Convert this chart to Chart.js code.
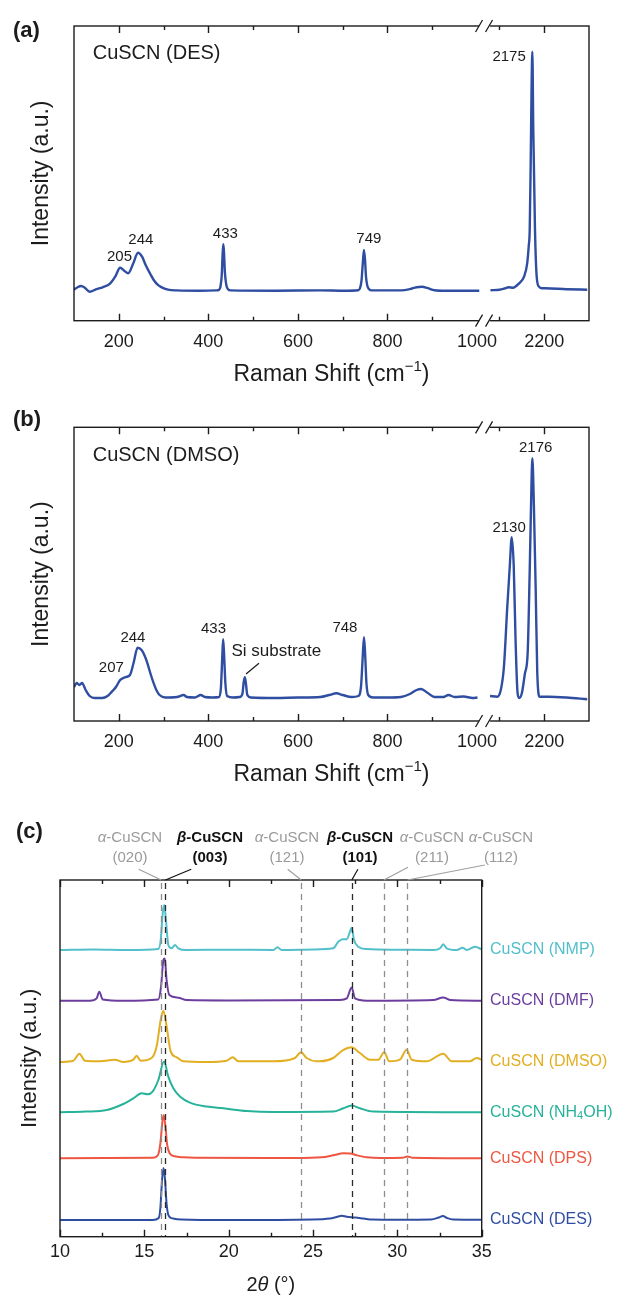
<!DOCTYPE html>
<html><head><meta charset="utf-8">
<script src="https://cdn.jsdelivr.net/npm/chart.js@4.4.0/dist/chart.umd.min.js"></script>
<style>
html,body{margin:0;padding:0;background:#fff;}
#wrap{position:relative;width:618px;height:1295px;overflow:hidden;background:#fff;}
canvas{position:absolute;left:0;}
</style></head><body>
<div id="wrap">
<canvas id="ca" width="618" height="400" style="top:0px"></canvas>
<canvas id="cb" width="618" height="399" style="top:401px"></canvas>
<canvas id="cc" width="618" height="495" style="top:800px"></canvas>
</div>
<script>
// ---------------- DATA ----------------
// (a) Raman, CuSCN (DES): [Raman shift (cm-1), intensity (a.u.)]
const ramanDES_low = [[100,1],[108,3.5],[116,4.7],[124,3],[135,-1],[150,1.5],[164,3.4],[181,7.4],[192,14],[203,23],[212,20],[221,17.4],[232,27],[243,38],[252,34],[260,25.7],[270,17],[278,10.7],[288,5.5],[296,3.4],[310,1],[330,0.3],[380,0],[418,0.3],[424,1],[427,4],[430,16],[432,38],[433.5,46.4],[435,38],[437,18],[440,6],[444,1.5],[450,0.3],[550,0],[650,0.3],[700,0],[735,0.5],[739,3],[742,10],[745,28],[747.5,40.7],[750,30],[752,14],[755,5],[759,1.5],[765,0.3],[830,0.3],[850,1.5],[865,3.5],[877,4],[890,2.5],[905,0.5],[930,0],[1005,0]];
const ramanDES_high = [[2080,0.5],[2100,1],[2110,2],[2121,3.4],[2130,3],[2144,7.4],[2155,14],[2162,27.4],[2165.5,45],[2167.6,60.7],[2169.8,127.7],[2172,210.7],[2173.5,239],[2175.6,160.7],[2179.4,60.7],[2183.2,14],[2188.3,4],[2195,2.5],[2203,2.4],[2250,1.5],[2296,1]];
// (b) Raman, CuSCN (DMSO)
const ramanDMSO_low = [[100,11],[106,15],[112,13],[118,15],[126,8],[135,2],[146,0],[163,0],[175,2],[181,4.7],[188,8],[194,11.3],[203,18],[210,20],[216,21],[225,23],[233,35],[242,50.3],[251,48],[258,42],[264,34.7],[271,24],[278,14.7],[285,7],[291,3],[304,0.5],[330,1],[345,3],[352,1],[370,0.5],[383,3],[392,1],[410,0.5],[424,1],[428,10],[431,40],[433,58.7],[435,45],[438,15],[442,2],[455,0.5],[470,1],[476,4],[479,16],[481.5,20.7],[484,14],[487,3],[495,0.5],[550,0],[600,0.5],[650,1],[670,3],[686,4.7],[700,3],[720,1],[735,2],[741,12],[744,35],[747.5,60.7],[750,45],[753,15],[757,3],[768,0.5],[800,0.5],[830,1],[850,4],[865,8],[875,9],[890,5],[905,1],[925,1],[936,3],[950,1],[970,1.5],[990,0],[1001,0.5]];
const ramanDMSO_high = [[2079,2],[2095,1.3],[2103,8],[2110,31],[2117.5,91],[2123,131],[2127.5,160.7],[2132,131],[2136,58],[2140.5,5],[2144,0],[2150,4.7],[2157,24.7],[2163,44.7],[2167.5,124.7],[2170.5,191],[2173.5,239.7],[2177,191],[2181,108],[2184.5,24.7],[2190,1.3],[2210,1.3],[2250,0.5],[2296,-1.3]];
// Raman tick labels
const ramanTickValues = [200,400,600,800,1000,2200];
const ramanTickLabels = ['200','400','600','800','1000','2200'];
const ramanMinorTicks = [300,500,700,900,2100];
// Raman peak labels [text, shift, intensity]
const peaksDES = [['205',201.6,34],['244',249.3,50.7],['433',438,56.7],['749',758.4,51.7],['2175',2121.5,233.5]];
const peaksDMSO = [['207',183.3,30.5],['244',231.5,59.7],['433',411.5,68.8],['748',705,70.5],['2130',2121.5,170.5],['2176',2181,250.5]];

// (c) XRD: [2theta (deg), relative intensity]
const xrdSamples = ['NMP','DMF','DMSO','NH4OH','DPS','DES'];
const xrdBaselines = [286.7,236,174.7,124.4,78.4,16.7];
const xrdNMP = [[10,0],[12,0.5],[14,0],[15.83,1],[15.97,10],[16.09,36.7],[16.18,45],[16.28,30],[16.42,5],[16.62,1.7],[16.82,5],[17.01,1.7],[17.5,0],[20,0.3],[22.65,0],[22.89,2.7],[23.14,0],[25,0.5],[26.2,1.7],[26.5,8.3],[26.76,10.7],[27,10.7],[27.19,18.3],[27.29,22.3],[27.43,10],[27.68,3.3],[28.18,1],[30,0.3],[32.13,0],[32.53,1.7],[32.72,5.7],[32.92,1.7],[33.51,0],[33.87,2.3],[34.11,0],[34.6,3.3],[35,0.7]];
const xrdDMF = [[10,0],[11.78,0],[12.17,2.3],[12.33,9],[12.53,1.3],[13.75,0],[15.83,1.3],[15.99,14],[16.13,40.7],[16.21,42.3],[16.32,20.7],[16.48,5.7],[17.01,3],[17.5,0.7],[20,0.3],[26.6,0.7],[27,2.3],[27.29,13.3],[27.49,2.3],[28.18,0],[32.13,0.7],[32.72,3.3],[33.12,0.7],[35,0]];
const xrdDMSO = [[10,0],[10.79,1.3],[11.15,8.3],[11.48,1.3],[12.37,0.7],[13.26,2.3],[13.75,0],[14.35,2.3],[14.54,6.3],[14.78,1.3],[15.43,4],[15.73,15.7],[15.97,42.3],[16.13,51.3],[16.32,35.7],[16.56,10.7],[16.92,4.7],[17.31,0.7],[18.7,0],[19.88,1.3],[20.24,4.7],[20.57,0.7],[22.65,0.7],[23.93,4],[24.29,9.7],[24.62,4],[25.2,0.7],[25.41,0.7],[26.2,4],[26.76,11.7],[27.29,14.7],[27.78,9],[28.38,2.3],[28.87,2.3],[29.22,9.7],[29.52,0.7],[30.15,2.3],[30.55,12.3],[30.85,2.3],[31.74,0.7],[32.72,8.3],[33.22,0.7],[34.3,0.7],[34.7,4],[35,2.3]];
const xrdNH4OH = [[10,0],[11.5,0.7],[12.77,2.3],[13.75,8.3],[14.35,14],[14.84,19],[15.2,18],[15.5,21],[15.83,32.3],[16.17,50.7],[16.42,35.7],[16.72,24],[17.11,15.7],[17.7,9.7],[18.7,5.7],[19.68,4],[21.07,1.3],[22.65,0.3],[26.2,0.7],[26.8,4],[27.29,6.7],[27.78,4],[28.57,0.7],[35,0]];
const xrdDPS = [[10,0],[15.5,0.5],[15.8,3],[15.95,15],[16.08,38],[16.15,43],[16.25,32],[16.35,14],[16.5,5],[16.8,2],[17.3,1],[18,0.5],[24,0.3],[25.5,1],[26.2,3],[26.8,5],[27.2,4.8],[27.6,3],[28.2,1],[29,0.3],[30.3,0.5],[30.6,1.8],[30.9,0.5],[35,0]];
const xrdDES = [[10,0],[15.5,0],[15.85,2],[15.95,12],[16.05,40],[16.14,52],[16.22,42],[16.32,16],[16.45,4],[16.7,1.5],[17.2,0.5],[20,0],[25,0.5],[26,1.5],[26.4,3],[26.7,4.2],[27.0,3.2],[27.5,2.5],[28,1.5],[28.5,0.5],[30,0.3],[32,0.5],[32.45,2.5],[32.7,4],[32.95,2],[33.3,0.5],[35,0.3]];
const xrdTickValues = [10,15,20,25,30,35];
const xrdTickLabels = ['10','15','20','25','30','35'];
const xrdMinorTicks = [12.5,17.5,22.5,27.5,32.5];
// reference reflections
const reflPhase = ['α','β','α','β','α','α'];
const reflHkl = ['(020)','(003)','(121)','(101)','(211)','(112)'];
const reflTheta = [16.0,16.25,24.3,27.3,29.2,30.6];

// ---------------- STYLE ----------------
const F = '"Liberation Sans", Arial, Helvetica, sans-serif';
const INK = '#1c1c1c';
const BLUE = '#2f4ea2';
const xrdColors = ['#52bfcb','#6b3e9e','#e2ae22','#27b29a','#ef5641','#2f4ea2'];
const GREYTXT = '#9a9a9a';

function rich(ctx, parts, x, y, align) {
  let w = 0;
  for (const p of parts) { ctx.font = p.f; p.w = ctx.measureText(p.t).width; w += p.w; }
  let cx = align === 'center' ? x - w / 2 : (align === 'right' ? x - w : x);
  ctx.textAlign = 'left'; ctx.textBaseline = 'middle';
  for (const p of parts) { ctx.font = p.f; ctx.fillText(p.t, cx, y + (p.dy || 0)); cx += p.w; }
}

// ---------------- RAMAN PANELS ----------------
const BREAK = 1050;
const toAxis = v => (v > 1500 ? v - BREAK : v);
const toPts = (arr, off = 0, fx = v => v) => arr.map(([a, b]) => ({ x: fx(a), y: b + off }));

function ramanChart(id, o) {
  const decor = {
    id: 'decor_' + id,
    afterDatasetsDraw(chart) {
      const { ctx, chartArea: a, scales: { x, y } } = chart;
      ctx.save();
      ctx.strokeStyle = INK; ctx.lineWidth = 1.4;
      ctx.strokeRect(a.left, a.top, a.right - a.left, a.bottom - a.top);
      const tick = (v, len) => {
        const px = Math.round(x.getPixelForValue(toAxis(v))) + 0.5;
        ctx.beginPath();
        ctx.moveTo(px, a.bottom); ctx.lineTo(px, a.bottom - len);
        ctx.moveTo(px, a.top); ctx.lineTo(px, a.top + len);
        ctx.stroke();
      };
      ramanTickValues.filter(v => v !== 1000).forEach(v => tick(v, 7));
      ramanMinorTicks.forEach(v => tick(v, 4));
      // axis break
      const xb = x.getPixelForValue(1000);
      ctx.fillStyle = '#fff';
      [a.top, a.bottom].forEach(yy => ctx.fillRect(xb + 2, yy - 2.5, 11, 5));
      ctx.lineWidth = 1.3;
      ctx.beginPath();
      [a.top, a.bottom].forEach(yy => {
        [xb + 2, xb + 12].forEach(sx => { ctx.moveTo(sx - 3.5, yy + 6); ctx.lineTo(sx + 3.5, yy - 6); });
      });
      ctx.stroke();
      // peak labels
      ctx.fillStyle = INK; ctx.font = '15px ' + F; ctx.textAlign = 'center'; ctx.textBaseline = 'middle';
      o.peaks.forEach(([t, px, py]) => ctx.fillText(t, x.getPixelForValue(toAxis(px)), y.getPixelForValue(py)));
      if (o.extra) o.extra(ctx, x, y);
      // sample name, panel letter
      ctx.textAlign = 'left';
      ctx.font = '20px ' + F; ctx.fillText(o.sample, 92.7, o.sampleY);
      ctx.font = 'bold 22px ' + F; ctx.fillText(o.letter, 13, o.letterY);
      // x title
      ctx.fillStyle = INK;
      rich(ctx, [{ t: 'Raman Shift (cm', f: '23px ' + F }, { t: '−1', f: '15px ' + F, dy: -8 }, { t: ')', f: '23px ' + F }],
        (a.left + a.right) / 2, o.titleY, 'center');
      ctx.restore();
    }
  };
  const W = 618;
  return new Chart(document.getElementById(id), {
    type: 'line',
    data: {
      datasets: [
        { data: toPts(o.low, 0, toAxis), borderColor: BLUE, borderWidth: 2.4, pointRadius: 0, cubicInterpolationMode: 'monotone', fill: false },
        { data: toPts(o.high, 0, toAxis), borderColor: BLUE, borderWidth: 2.4, pointRadius: 0, cubicInterpolationMode: 'monotone', fill: false }
      ]
    },
    options: {
      responsive: false, animation: false, devicePixelRatio: 1,
      layout: { padding: { left: 0, top: o.T, right: W - o.R, bottom: 0 } },
      plugins: { legend: { display: false }, tooltip: { enabled: false } },
      scales: {
        x: {
          type: 'linear', min: 100, max: 1250, position: 'bottom',
          grid: { display: false, drawTicks: false }, border: { display: false },
          afterBuildTicks: s => { s.ticks = ramanTickValues.map(v => ({ value: toAxis(v) })); },
          ticks: { autoSkip: false, maxRotation: 0, minRotation: 0, padding: o.tickPad, color: INK, font: { family: F, size: 18 },
            callback: (v, i) => ramanTickLabels[i] },
          afterFit: s => { s.height = o.H - o.B; }
        },
        y: {
          type: 'linear', min: o.ymin, max: o.ymax,
          grid: { display: false, drawTicks: false }, border: { display: false },
          ticks: { display: false },
          title: { display: true, text: 'Intensity (a.u.)', color: INK, font: { family: F, size: 23 }, padding: { top: o.ytitleX - 13.8, bottom: 0 } },
          afterFit: s => { s.width = o.L; }
        }
      }
    },
    plugins: [decor]
  });
}

ramanChart('ca', { low: ramanDES_low, high: ramanDES_high, peaks: peaksDES, H: 400, L: 74, T: 26, R: 589, B: 320.7,
  ymin: -30, ymax: 264.7, tickPad: 10.7, titleY: 375, sample: 'CuSCN (DES)', sampleY: 53.3, letter: '(a)', letterY: 31, ytitleX: 42 });

ramanChart('cb', { low: ramanDMSO_low, high: ramanDMSO_high, peaks: peaksDMSO, H: 399, L: 74, T: 26.3, R: 589, B: 320,
  ymin: -23, ymax: 270.7, tickPad: 10.4, titleY: 374, sample: 'CuSCN (DMSO)', sampleY: 54, letter: '(b)', letterY: 19.3, ytitleX: 42,
  extra: (ctx, x, y) => {
    ctx.textAlign = 'left'; ctx.font = '17px ' + F; ctx.fillStyle = INK;
    ctx.fillText('Si substrate', x.getPixelForValue(451.6), y.getPixelForValue(46.8));
    ctx.strokeStyle = INK; ctx.lineWidth = 1.2; ctx.beginPath();
    ctx.moveTo(x.getPixelForValue(484.1), y.getPixelForValue(24));
    ctx.lineTo(x.getPixelForValue(513.1), y.getPixelForValue(34.7));
    ctx.stroke();
  } });

// ---------------- XRD PANEL ----------------
(function () {
  const xrdData = [xrdNMP, xrdDMF, xrdDMSO, xrdNH4OH, xrdDPS, xrdDES];
  const L = 60, T = 80, R = 481.7, B = 436.7, H = 495, W = 618;
  const decor = {
    id: 'xrdDecor',
    afterDatasetsDraw(chart) {
      const { ctx, chartArea: a, scales: { x, y } } = chart;
      ctx.save();
      // reference lines
      ctx.lineWidth = 1.3; ctx.setLineDash([6, 5]);
      reflTheta.forEach((t, i) => {
        const px = Math.round(x.getPixelForValue(t)) + 0.5;
        ctx.strokeStyle = reflPhase[i] === 'β' ? '#2a2a2a' : '#8e8e8e';
        ctx.beginPath(); ctx.moveTo(px, a.top + 3); ctx.lineTo(px, a.bottom); ctx.stroke();
      });
      ctx.setLineDash([]);
      // frame and ticks
      ctx.strokeStyle = INK; ctx.lineWidth = 1.4;
      ctx.strokeRect(a.left, a.top, a.right - a.left, a.bottom - a.top);
      const tick = (v, len) => {
        const px = Math.round(x.getPixelForValue(v)) + 0.5;
        ctx.beginPath();
        ctx.moveTo(px, a.bottom); ctx.lineTo(px, a.bottom - len);
        ctx.moveTo(px, a.top); ctx.lineTo(px, a.top + len);
        ctx.stroke();
      };
      xrdTickValues.forEach(v => tick(v, 7));
      xrdMinorTicks.forEach(v => tick(v, 4));
      // header labels with leader lines
      const colX = [130, 210, 287, 360, 432, 501];
      const leadStart = [[138.7, 69.3], [191.2, 69.3], [287.7, 69.3], [357.9, 69.3], [408, 67.3], [484.8, 65]];
      reflPhase.forEach((ph, i) => {
        const beta = ph === 'β';
        const col = beta ? '#111' : GREYTXT;
        ctx.fillStyle = col;
        const b = beta ? 'bold ' : '';
        rich(ctx, [{ t: ph, f: 'italic ' + b + '15px ' + F }, { t: '-CuSCN', f: b + '15px ' + F }], colX[i], 38.3, 'center');
        rich(ctx, [{ t: reflHkl[i], f: b + '15px ' + F }], colX[i], 58.3, 'center');
        ctx.strokeStyle = beta ? '#111' : '#a0a0a0'; ctx.lineWidth = 1.2;
        ctx.beginPath(); ctx.moveTo(leadStart[i][0], leadStart[i][1]);
        ctx.lineTo(x.getPixelForValue(reflTheta[i]), a.top); ctx.stroke();
      });
      // sample labels
      xrdSamples.forEach((s, i) => {
        ctx.fillStyle = xrdColors[i];
        const yy = y.getPixelForValue(xrdBaselines[i]);
        if (s === 'NH4OH') {
          rich(ctx, [{ t: 'CuSCN (NH', f: '16px ' + F }, { t: '4', f: '11px ' + F, dy: 4 }, { t: 'OH)', f: '16px ' + F }], 490, yy, 'left');
        } else {
          rich(ctx, [{ t: 'CuSCN (' + s + ')', f: '16px ' + F }], 490, yy, 'left');
        }
      });
      // letter and x title
      ctx.fillStyle = INK;
      rich(ctx, [{ t: '(c)', f: 'bold 22px ' + F }], 16, 31.7, 'left');
      rich(ctx, [{ t: '2', f: '20px ' + F }, { t: 'θ', f: 'italic 20px ' + F }, { t: ' (°)', f: '20px ' + F }], (a.left + a.right) / 2, 485.5, 'center');
      ctx.restore();
    }
  };
  new Chart(document.getElementById('cc'), {
    type: 'line',
    data: {
      datasets: xrdData.map((d, i) => ({
        data: toPts(d, xrdBaselines[i]), borderColor: xrdColors[i], borderWidth: 2, pointRadius: 0,
        cubicInterpolationMode: 'monotone', fill: false
      }))
    },
    options: {
      responsive: false, animation: false, devicePixelRatio: 1,
      layout: { padding: { left: 0, top: T, right: W - R, bottom: 0 } },
      plugins: { legend: { display: false }, tooltip: { enabled: false } },
      scales: {
        x: {
          type: 'linear', min: 10, max: 35, position: 'bottom',
          grid: { display: false, drawTicks: false }, border: { display: false },
          afterBuildTicks: s => { s.ticks = xrdTickValues.map(v => ({ value: v })); },
          ticks: { autoSkip: false, maxRotation: 0, minRotation: 0, padding: 4.2, color: INK, font: { family: F, size: 18 },
            callback: (v, i) => xrdTickLabels[i] },
          afterFit: s => { s.height = H - B; }
        },
        y: {
          type: 'linear', min: 0, max: 356.7,
          grid: { display: false, drawTicks: false }, border: { display: false },
          ticks: { display: false },
          title: { display: true, text: 'Intensity (a.u.)', color: INK, font: { family: F, size: 22 }, padding: { top: 30 - 13.2, bottom: 0 } },
          afterFit: s => { s.width = L; }
        }
      }
    },
    plugins: [decor]
  });
})();
</script>
</body></html>
